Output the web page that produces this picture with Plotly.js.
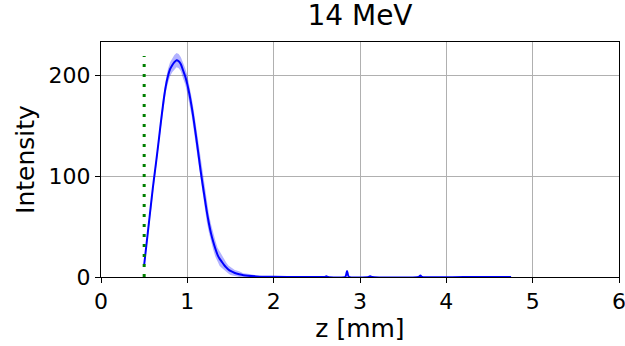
<!DOCTYPE html>
<html>
<head>
<meta charset="utf-8">
<script src="https://cdn.plot.ly/plotly-3.0.1.min.js"></script>
<style>html,body{margin:0;padding:0;background:#fff;}#chart{width:625px;height:346px;}</style>
</head>
<body>
<div id="chart"></div>
<script>
// z positions [mm]
var z = [0.500,0.525,0.550,0.575,0.600,0.625,0.650,0.675,0.700,0.725,0.750,0.775,0.800,0.825,0.850,0.875,0.900,0.925,0.950,0.975,
         1.000,1.025,1.050,1.075,1.100,1.125,1.150,1.175,1.200,1.225,1.250,1.275,1.300,1.325,1.350,1.375,1.400,1.425,1.450,1.475,
         1.500,1.550,1.600,1.650,1.700,1.800,1.900,2.000,2.300,2.59,2.61,2.63,2.83,2.85,2.87,3.10,3.12,3.14,3.68,3.70,3.72,4.20,4.75];
// mean intensity
var intensity = [12,31,50,69,88,105,122,140,158,175,189,199,206,210,213,215,214,211,205,199,
                 191,181,169,155,140,124,108,93,79,65,53,43,35,28,22,18,15,12,9.5,7.5,
                 6,4,2.8,1.8,1.2,0.6,0.3,0.15,0.1,0.05,0.8,0.05,0.1,6,0.2,0.1,0.8,0.05,0.1,1.5,0.05,0.05,0.05];
// spread (band half-width)
var spread = [3,3,3,4,4,4,5,5,5,6,6,7,7,7,7,7,7,7,8,8,
              9,9,9,10,10,10,10,10,10,10,9,9,8,8,7,7,6,5,5,4,
              4,3,3,2,2,1,0.5,0.3,0.1,0,0,0,0,1,0,0,0,0,0,0,0,0,0];
// green dotted marker line
var markerZ = [0.5, 0.5];
var markerI = [0, 219];

var upper = intensity.map(function(v,i){return v + spread[i];});
var lower = intensity.map(function(v,i){return Math.max(0, v - spread[i]);});

var traces = [
  {x: z, y: lower, mode: 'lines', line: {width: 0, color: 'rgba(0,0,255,0)'}, hoverinfo: 'skip', showlegend: false},
  {x: z, y: upper, mode: 'lines', fill: 'tonexty', fillcolor: 'rgba(0,0,255,0.3)', line: {width: 0, color: 'rgba(0,0,255,0)'}, hoverinfo: 'skip', showlegend: false},
  {x: z, y: intensity, mode: 'lines', line: {color: '#0000ff', width: 2, shape: 'spline', smoothing: 0.6}, showlegend: false},
  {x: markerZ, y: markerI, mode: 'lines', line: {color: '#008000', width: 3, dash: '3px,7px'}, showlegend: false}
];

var fontFam = 'DejaVu Sans, sans-serif';
var layout = {
  width: 625, height: 346,
  margin: {l: 101, r: 6, t: 42, b: 69},
  paper_bgcolor: '#fff', plot_bgcolor: '#fff',
  showlegend: false,
  title: {text: '14 MeV', font: {family: fontFam, size: 28, color: '#000'}, x: 0.576, xanchor: 'center', xref: 'container', y: 0.985, yanchor: 'top', yref: 'container'},
  xaxis: {
    range: [0, 6], tickvals: [0,1,2,3,4,5,6], ticktext: ['0','1','2','3','4','5','6'],
    ticklabeloverflow: 'allow',
    showgrid: true, gridcolor: '#b0b0b0', gridwidth: 1, zeroline: false,
    showline: true, linecolor: '#000', linewidth: 1, mirror: true,
    ticks: 'outside', ticklen: 5, tickcolor: '#000',
    tickfont: {family: fontFam, size: 22, color: '#000'},
    title: {text: 'z [mm]', font: {family: fontFam, size: 25, color: '#000'}, standoff: 4}
  },
  yaxis: {
    range: [0, 233], tickvals: [0,100,200], ticktext: ['0','100','200'],
    showgrid: true, gridcolor: '#b0b0b0', gridwidth: 1, zeroline: false,
    showline: true, linecolor: '#000', linewidth: 1, mirror: true,
    ticks: 'outside', ticklen: 5, tickcolor: '#000',
    tickfont: {family: fontFam, size: 22, color: '#000'},
    title: {text: 'Intensity', font: {family: fontFam, size: 25, color: '#000'}, standoff: 6}
  }
};
Plotly.newPlot('chart', traces, layout, {displayModeBar: false, staticPlot: true});
</script>
</body>
</html>
